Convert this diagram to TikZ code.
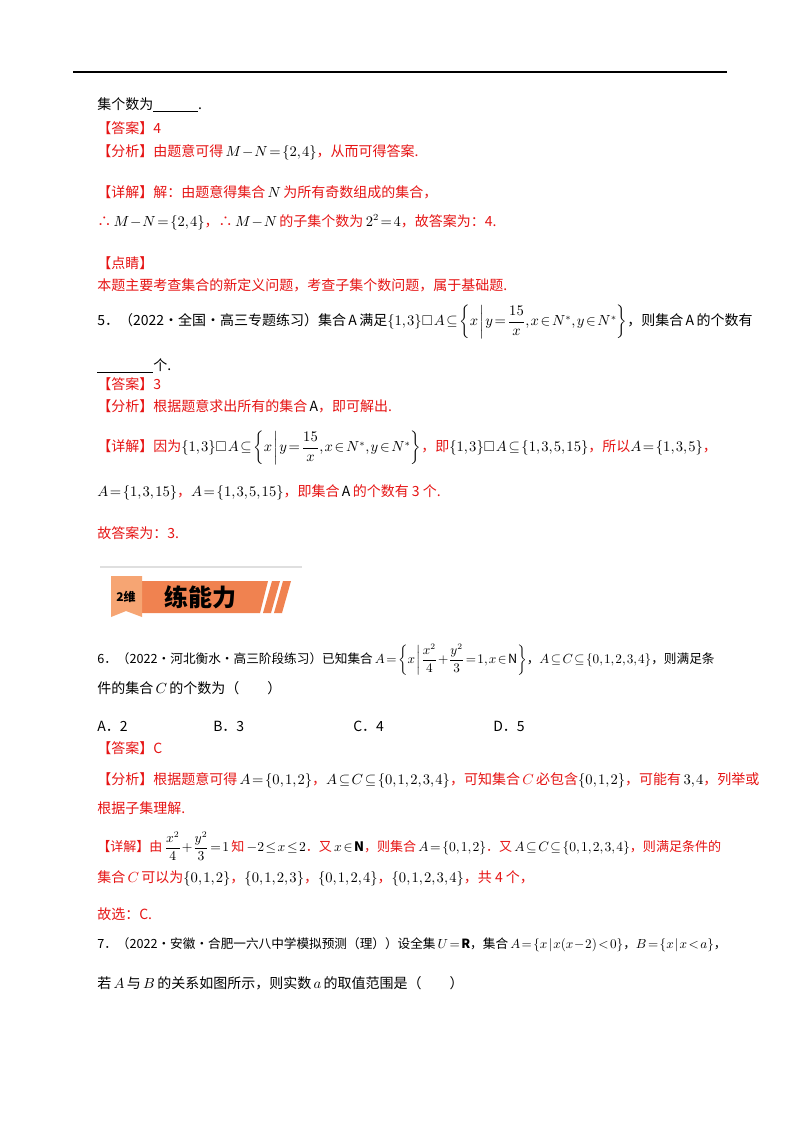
\documentclass[tikz,border=0pt]{standalone}
\usepackage{amsmath,amssymb}
\usepackage{graphicx}
\usepackage{fontspec}
\setmainfont{Noto Sans CJK SC}
\usepackage{xcolor}
\definecolor{ans}{RGB}{230,20,20}
\definecolor{bar}{RGB}{240,130,80}
\definecolor{tab}{RGB}{246,165,115}
\newcommand{\fitw}[2]{\resizebox{#1}{!}{#2}}
\medmuskip=1mu plus 1mu
\thickmuskip=2mu plus 1mu
\thinmuskip=1.5mu
\begin{document}
\begin{tikzpicture}[x=0.75pt,y=-0.75pt,
  t/.style={anchor=west,inner sep=0pt,font=\fontsize{10.5}{12}\selectfont},
  r/.style={t,text=ans}]
\useasboundingbox (0,0) rectangle (800,1132);
\fill[white] (0,0) rectangle (800,1132);
\draw[line width=1.5pt] (73,72) -- (727,72);
\node[t] (l1) at (97,105) {集个数为\underline{\hspace{3.2em}}.};
\node[r] (l2) at (97,128) {【答案】4};
\node[r] (l3) at (97,152) {【分析】由题意可得\,\textcolor{black}{$M-N=\{2,4\}$}，从而可得答案.};
\node[r] (l4) at (97,192) {【详解】解：由题意得集合\,\textcolor{black}{$N$}\,为所有奇数组成的集合，};
\node[r] (l5) at (97,222) {∴\,\textcolor{black}{$M-N=\{2,4\}$}，∴\,\textcolor{black}{$M-N$}\,的子集个数为\,\textcolor{black}{$2^2=4$}，故答案为：4.};
\node[r] (l6) at (97,263) {【点睛】};
\node[r] (l7) at (97,285) {本题主要考查集合的新定义问题，考查子集个数问题，属于基础题.};
\node[t] (q5) at (97,322) {5．（2022·全国·高三专题练习）集合\,$\mathrm{A}$\,满足$\{1,3\}\square\,A\subseteq\left\{x\,\middle|\,y=\dfrac{15}{x},x\in N^*,y\in N^*\right\}$，则集合\,$\mathrm{A}$\,的个数有};
\node[t] (q5b) at (97,366) {\underline{\hspace{4em}}个.};
\node[r] (a5) at (97,384) {【答案】3};
\node[r] (f5) at (97,406) {【分析】根据题意求出所有的集合\,\textcolor{black}{$\mathrm{A}$}，即可解出.};
\node[r] (d5) at (97,448) {【详解】因为\textcolor{black}{$\{1,3\}\square\,A\subseteq\left\{x\,\middle|\,y=\dfrac{15}{x},x\in N^*,y\in N^*\right\}$}，即\textcolor{black}{$\{1,3\}\square\,A\subseteq\{1,3,5,15\}$}，所以\textcolor{black}{$A=\{1,3,5\}$}，};
\node[r] (d5b) at (97,492) {\textcolor{black}{$A=\{1,3,15\}$}，\textcolor{black}{$A=\{1,3,5,15\}$}，即集合\,\textcolor{black}{$\mathrm{A}$}\,的个数有 3 个.};
\node[r] (e5) at (97,533) {故答案为：3.};
% badge
\draw[gray!25,line width=1pt] (100,567) -- (302,567);
\fill[bar] (142,581) -- (268,581) -- (260,613) -- (142,613) -- cycle;
\fill[bar] (272,581) -- (280,581) -- (271,613) -- (263,613) -- cycle;
\fill[bar] (283,581) -- (291,581) -- (282,613) -- (274,613) -- cycle;
\fill[tab] (111,576) -- (142,576) -- (142,617) -- (126,611) -- (111,617) -- cycle;
\node[inner sep=0pt,font=\fontsize{9}{10}\selectfont\bfseries] (b1) at (126,597) {2维};
\node[inner sep=0pt,font=\fontsize{18}{19}\selectfont\bfseries] (b2) at (200,597) {练能力};
% q6
\node[t] (q6) at (97,660) {\fitw{463pt}{6．（2022·河北衡水·高三阶段练习）已知集合\,$A=\left\{x\,\middle|\,\dfrac{x^2}{4}+\dfrac{y^2}{3}=1,x\in\mathrm{N}\right\}$，$A\subseteq C\subseteq\{0,1,2,3,4\}$，则满足条}};
\node[t] (q6b) at (97,688) {件的集合\,$C$\,的个数为（\hspace{2em}）};
\node[t] (oa) at (97,726) {A．2};
\node[t] (ob) at (213,726) {B．3};
\node[t] (oc) at (353,726) {C．4};
\node[t] (od) at (493,726) {D．5};
\node[r] (a6) at (97,748) {【答案】C};
\node[r] (f6) at (97,780) {【分析】根据题意可得\,\textcolor{black}{$A=\{0,1,2\}$}，\textcolor{black}{$A\subseteq C\subseteq\{0,1,2,3,4\}$}，可知集合\,$C$\,必包含\textcolor{black}{$\{0,1,2\}$}，可能有\,\textcolor{black}{$3,4$}，列举或};
\node[r] (f6b) at (97,808) {根据子集理解.};
\node[r] (d6) at (97,846) {\fitw{468pt}{【详解】由\,\textcolor{black}{$\dfrac{x^2}{4}+\dfrac{y^2}{3}=1$}\,知\,\textcolor{black}{$-2\le x\le 2$}．又\,\textcolor{black}{$x\in\mathbf{N}$}，则集合\,\textcolor{black}{$A=\{0,1,2\}$}．又\,\textcolor{black}{$A\subseteq C\subseteq\{0,1,2,3,4\}$}，则满足条件的}};
\node[r] (d6b) at (97,878) {集合\,$C$\,可以为\textcolor{black}{$\{0,1,2\}$}，\textcolor{black}{$\{0,1,2,3\}$}，\textcolor{black}{$\{0,1,2,4\}$}，\textcolor{black}{$\{0,1,2,3,4\}$}，共 4 个，};
\node[r] (e6) at (97,914) {故选：C.};
\node[t] (q7) at (97,945) {\fitw{472pt}{7．（2022·安徽·合肥一六八中学模拟预测（理））设全集\,$U=\mathbf{R}$，集合\,$A=\{x\,|\,x(x-2)<0\}$，$B=\{x\,|\,x<a\}$，}};
\node[t] (q7b) at (97,983) {若\,$A$\,与\,$B$\,的关系如图所示，则实数\,$a$\,的取值范围是（\hspace{2em}）};
\end{tikzpicture}
\end{document}
